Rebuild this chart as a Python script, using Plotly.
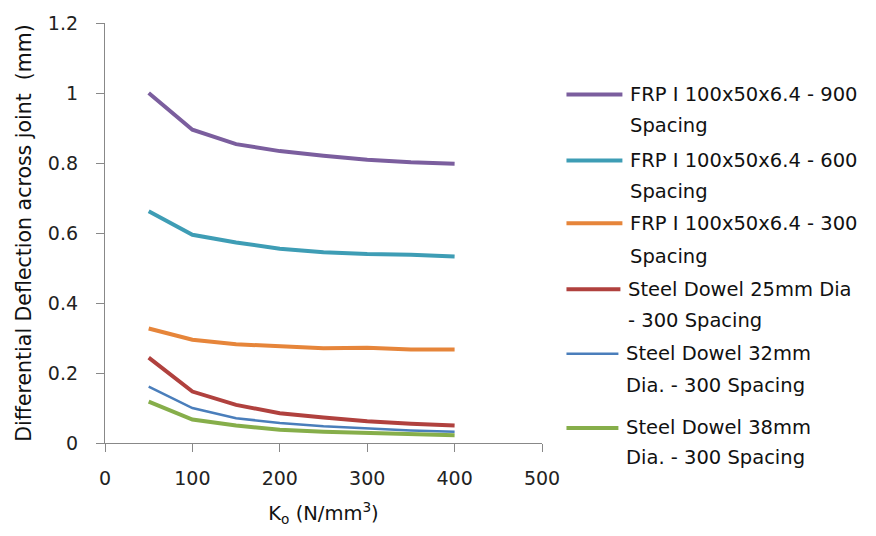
import plotly.graph_objects as go

k_values = [50, 100, 150, 200, 250, 300, 350, 400]

series_names = [
    "FRP I 100x50x6.4 - 900<br>Spacing",
    "FRP I 100x50x6.4 - 600<br>Spacing",
    "FRP I 100x50x6.4 - 300<br>Spacing",
    "Steel Dowel 25mm Dia<br>- 300 Spacing",
    "Steel Dowel 32mm<br>Dia. - 300 Spacing",
    "Steel Dowel 38mm<br>Dia. - 300 Spacing",
]

frp_900 = [1.000, 0.895, 0.854, 0.834, 0.821, 0.809, 0.802, 0.798]
frp_600 = [0.662, 0.595, 0.573, 0.555, 0.545, 0.540, 0.538, 0.533]
frp_300 = [0.327, 0.295, 0.282, 0.276, 0.271, 0.272, 0.267, 0.267]
steel_25 = [0.244, 0.147, 0.109, 0.085, 0.073, 0.062, 0.055, 0.050]
steel_32 = [0.161, 0.100, 0.071, 0.057, 0.048, 0.041, 0.036, 0.032]
steel_38 = [0.118, 0.067, 0.050, 0.038, 0.032, 0.029, 0.027, 0.022]

series_values = [frp_900, frp_600, frp_300, steel_25, steel_32, steel_38]
colors = ["#7B5E9E", "#3E9DB5", "#E6853A", "#B0413E", "#4A7EBB", "#86AE4A"]
widths = [4, 4, 4, 4, 2.5, 4]

x_ticks = [0, 100, 200, 300, 400, 500]
y_ticks = [0, 0.2, 0.4, 0.6, 0.8, 1.0, 1.2]
y_tick_text = ["0", "0.2", "0.4", "0.6", "0.8", "1", "1.2"]

FONT = "DejaVu Sans"
W, H = 876, 536
L, R, T, B = 105, 333.5, 19.5, 92.5
pw = W - L - R
ph = H - T - B

fig = go.Figure()
for name, vals, c, w in zip(series_names, series_values, colors, widths):
    fig.add_trace(go.Scatter(x=k_values, y=vals, mode="lines", name=name,
                             line=dict(color=c, width=w), showlegend=False))

def px_to_paper_x(px):
    return (px - L) / pw

def px_to_paper_y(py):
    return (H - B - py) / ph

# manual legend
legend_rows = [(91.7, 123.3), (158.3, 190.0), (221.7, 255.0),
               (288.3, 320.0), (353.3, 385.0), (428.3, 458.3)]
legend_text_x = [629, 629, 629, 627, 625, 625]
for name, c, w, (y1, y2), tx in zip(series_names, colors, widths, legend_rows, legend_text_x):
    l1, l2 = name.split("<br>")
    fig.add_shape(type="line", xref="paper", yref="paper",
                  x0=px_to_paper_x(567), x1=px_to_paper_x(tx - 6),
                  y0=px_to_paper_y(y1), y1=px_to_paper_y(y1),
                  line=dict(color=c, width=w))
    for txt, yy in ((l1, y1), (l2, y2)):
        fig.add_annotation(text=txt, xref="paper", yref="paper",
                           x=px_to_paper_x(tx), y=px_to_paper_y(yy),
                           xanchor="left", yanchor="middle", showarrow=False,
                           font=dict(family=FONT, size=19.5, color="#111111"))

axis_common = dict(showgrid=False, zeroline=False, showline=True,
                   linecolor="#888888", linewidth=1.3, ticks="outside",
                   ticklen=8, tickcolor="#888888", tickwidth=1.3,
                   tickfont=dict(family=FONT, size=19, color="#222222"))

fig.update_xaxes(range=[0, 500], tickvals=x_ticks, ticktext=[str(v) for v in x_ticks],
                 ticklabelstandoff=10,
                 title=dict(text="K<sub>o</sub> (N/mm<sup>3</sup>)",
                            font=dict(family=FONT, size=19.5, color="#111111"), standoff=18),
                 **axis_common)
fig.update_yaxes(range=[0, 1.2], tickvals=y_ticks, ticktext=y_tick_text,
                 ticklabelstandoff=14,
                 title=dict(text="Differential Deflection across joint  (mm)",
                            font=dict(family=FONT, size=20.5, color="#111111"), standoff=10),
                 **axis_common)

fig.update_layout(width=W, height=H, margin=dict(l=L, r=R, t=T, b=B, pad=0),
                  plot_bgcolor="white", paper_bgcolor="white", showlegend=False)

fig.write_html("out.html")
